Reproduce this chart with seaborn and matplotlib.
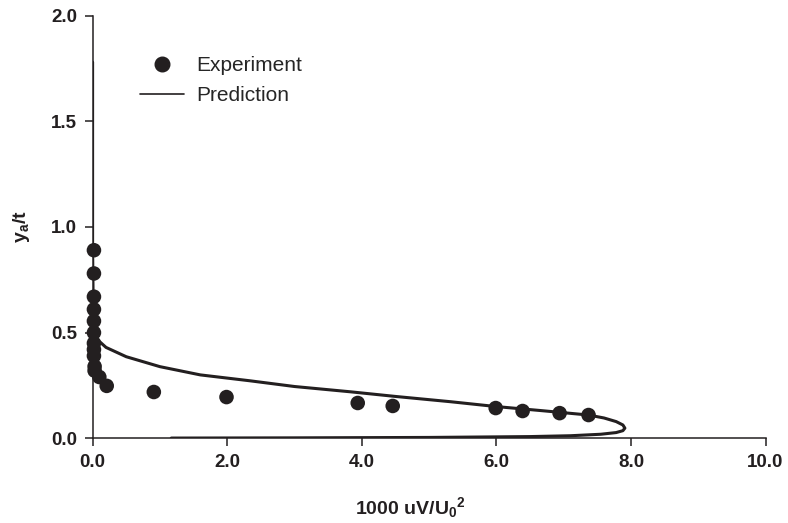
import matplotlib
matplotlib.use("Agg")
import matplotlib.pyplot as plt
import seaborn as sns
import pandas as pd
from matplotlib.lines import Line2D
from matplotlib.ticker import FormatStrFormatter

# Experimental data
exp_x = [0.02, 0.02, 0.02, 0.02, 0.02, 0.02, 0.02, 0.02, 0.02, 0.03, 0.03, 0.10, 0.21,
         0.91, 1.99, 3.94, 4.46, 5.99, 6.39, 6.94, 7.37]
exp_y = [0.89, 0.78, 0.67, 0.61, 0.555, 0.50, 0.45, 0.42, 0.39, 0.34, 0.32, 0.29, 0.248,
         0.219, 0.195, 0.167, 0.153, 0.143, 0.129, 0.119, 0.110]

# Prediction curve (ordered along the curve)
pred_x = [0.0, 0.0, 0.0, 0.01, 0.03, 0.06, 0.2, 0.5, 1.0, 1.6, 2.34, 3.0, 3.83, 4.5, 5.32,
          6.0, 6.7, 7.37, 7.6, 7.78, 7.88, 7.91, 7.88, 7.78, 7.55, 7.1, 6.5, 5.0, 3.0, 1.17]
pred_y = [1.78, 1.2, 0.9, 0.6, 0.5, 0.47, 0.43, 0.386, 0.339, 0.30, 0.272, 0.245, 0.22, 0.198,
          0.173, 0.15, 0.13, 0.11, 0.096, 0.079, 0.063, 0.048, 0.036, 0.027, 0.019, 0.012,
          0.008, 0.004, 0.002, 0.001]

x_ticks = [0.0, 2.0, 4.0, 6.0, 8.0, 10.0]
y_ticks = [0.0, 0.5, 1.0, 1.5, 2.0]

sns.set_style("ticks")
plt.rcParams['font.family'] = ['Liberation Sans', 'DejaVu Sans']
plt.rcParams['mathtext.fontset'] = 'custom'
plt.rcParams['mathtext.rm'] = 'Liberation Sans:bold'
plt.rcParams['mathtext.it'] = 'Liberation Sans:bold'
plt.rcParams['mathtext.bf'] = 'Liberation Sans:bold'

ink = '#231f20'
fig = plt.figure(figsize=(7.88, 5.23), dpi=100)
ax = fig.add_axes([0.1175, 0.162, 0.854, 0.808])

exp_df = pd.DataFrame({'x': exp_x, 'y': exp_y})
pred_df = pd.DataFrame({'x': pred_x, 'y': pred_y})

sns.lineplot(data=pred_df, x='x', y='y', sort=False, estimator=None, color=ink,
             linewidth=2.2, ax=ax)
sns.scatterplot(data=exp_df, x='x', y='y', color=ink, s=110, edgecolor='none', ax=ax,
                zorder=3, clip_on=False)

ax.set_xlim(0, 10)
ax.set_ylim(0, 2.0)
ax.set_xticks(x_ticks)
ax.set_yticks(y_ticks)
ax.xaxis.set_major_formatter(FormatStrFormatter('%.1f'))
ax.yaxis.set_major_formatter(FormatStrFormatter('%.1f'))
for lab in ax.get_xticklabels() + ax.get_yticklabels():
    lab.set_fontweight('bold')
ax.tick_params(axis='both', direction='out', length=6, width=1.1, labelsize=13.5,
               color=ink, labelcolor=ink, pad=5)
for s in ['top', 'right']:
    ax.spines[s].set_visible(False)
for s in ['left', 'bottom']:
    ax.spines[s].set_linewidth(1.1)
    ax.spines[s].set_color(ink)

ax.set_xlabel(r'1000 uV/U$_0{}^2$', fontsize=14, fontweight='bold', color=ink)
ax.set_ylabel(r'y$_a$/t', fontsize=14, fontweight='bold', color=ink)
ax.xaxis.set_label_coords(0.472, -0.134)
ax.yaxis.set_label_coords(-0.09, 0.50)

handles = [Line2D([], [], marker='o', linestyle='none', color=ink, markersize=10.5),
           Line2D([], [], color=ink, linewidth=1.2)]
ax.legend(handles, ['Experiment', 'Prediction'], loc='upper left',
          bbox_to_anchor=(0.071, 0.905), frameon=False, fontsize=15,
          handlelength=2.1, handletextpad=0.6, labelspacing=0.55,
          borderpad=0, borderaxespad=0)

fig.savefig('out.png', dpi=100)
